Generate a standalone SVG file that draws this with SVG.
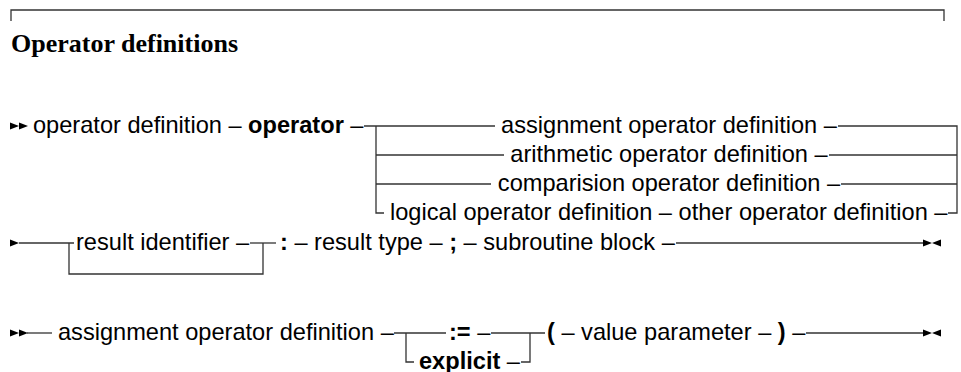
<svg xmlns="http://www.w3.org/2000/svg" xmlns:xlink="http://www.w3.org/1999/xlink" width="961" height="372" viewBox="0 0 961 372">
<style>
  .t { font-family: "Liberation Sans", Arial, sans-serif; font-size: 23.6px; fill: #000; }
  .b { font-weight: bold; }
  .title { font-family: "Liberation Serif", "Times New Roman", serif; font-size: 26px; font-weight: bold; fill: #000; }
  .ln { stroke: #333; stroke-width: 1.3; fill: none; }
  .m { fill: #000; }
</style>
<defs>
  <path id="tr" d="M0,-3.5 L9,0 L0,3.5 Z"/>
  <path id="tl" d="M9,-3.5 L0,0 L9,3.5 Z"/>
</defs>
<rect width="961" height="372" fill="#fff"/>
<g id="frame">
  <path class="ln" d="M11,21 V10 H944 V21"/>
</g>
<g id="title"><text class="title" x="11" y="52">Operator definitions</text></g>

<g id="connectors">
  <!-- row 1 -->
  <path class="ln" d="M364,126 H495"/>
  <path class="ln" d="M376,126 V213 H384"/>
  <path class="ln" d="M376,155 H504"/>
  <path class="ln" d="M376,184 H491"/>
  <path class="ln" d="M838,126 H957 V213 H948"/>
  <path class="ln" d="M829,155 H957"/>
  <path class="ln" d="M841,184 H957"/>
  <!-- row 5 -->
  <path class="ln" d="M19,243 H74"/>
  <path class="ln" d="M69,243 V274 H263 V243"/>
  <path class="ln" d="M250,243 H276"/>
  <path class="ln" d="M676,243 H923"/>
  <!-- row 6 -->
  <path class="ln" d="M27,333 H52"/>
  <path class="ln" d="M394,333 H446"/>
  <path class="ln" d="M406,333 V362 H414"/>
  <path class="ln" d="M491,333 H545"/>
  <path class="ln" d="M521,362 H530 V333"/>
  <path class="ln" d="M806,333 H923"/>
  <!-- markers -->
  <use href="#tr" class="m" x="10" y="126"/>
  <use href="#tr" class="m" x="19" y="126"/>
  <use href="#tr" class="m" x="10" y="243"/>
  <use href="#tr" class="m" x="923" y="243"/>
  <use href="#tl" class="m" x="932" y="243"/>
  <use href="#tr" class="m" x="10" y="333"/>
  <use href="#tr" class="m" x="19" y="333"/>
  <use href="#tr" class="m" x="923" y="333"/>
  <use href="#tl" class="m" x="932" y="333"/>
</g>

<g id="n-opdef"><text class="t" x="33" y="132.5">operator definition – <tspan class="b">operator</tspan> –</text></g>
<g id="n-assign"><text class="t" x="669" y="132.5" text-anchor="middle">assignment operator definition –</text></g>
<g id="n-arith"><text class="t" x="669" y="161.5" text-anchor="middle">arithmetic operator definition –</text></g>
<g id="n-compar"><text class="t" x="669" y="190.5" text-anchor="middle">comparision operator definition –</text></g>
<g id="n-logical"><text class="t" x="390" y="219.5">logical operator definition – other operator definition –</text></g>

<g id="n-resid"><text class="t" x="76" y="249.5">result identifier –</text></g>
<g id="n-restype"><text class="t" x="280" y="249.5"><tspan class="b">:</tspan> – result type – <tspan class="b">;</tspan> – subroutine block –</text></g>

<g id="n-assign2"><text class="t" x="58" y="339.5">assignment operator definition –</text></g>
<g id="n-colon-eq"><text class="t" x="449" y="339.5"><tspan class="b">:=</tspan> –</text></g>
<g id="n-explicit"><text class="t" x="419" y="368.5"><tspan class="b">explicit</tspan> –</text></g>
<g id="n-params"><text class="t" x="547" y="339.5"><tspan class="b">(</tspan> – value parameter – <tspan class="b">)</tspan> –</text></g>
</svg>
